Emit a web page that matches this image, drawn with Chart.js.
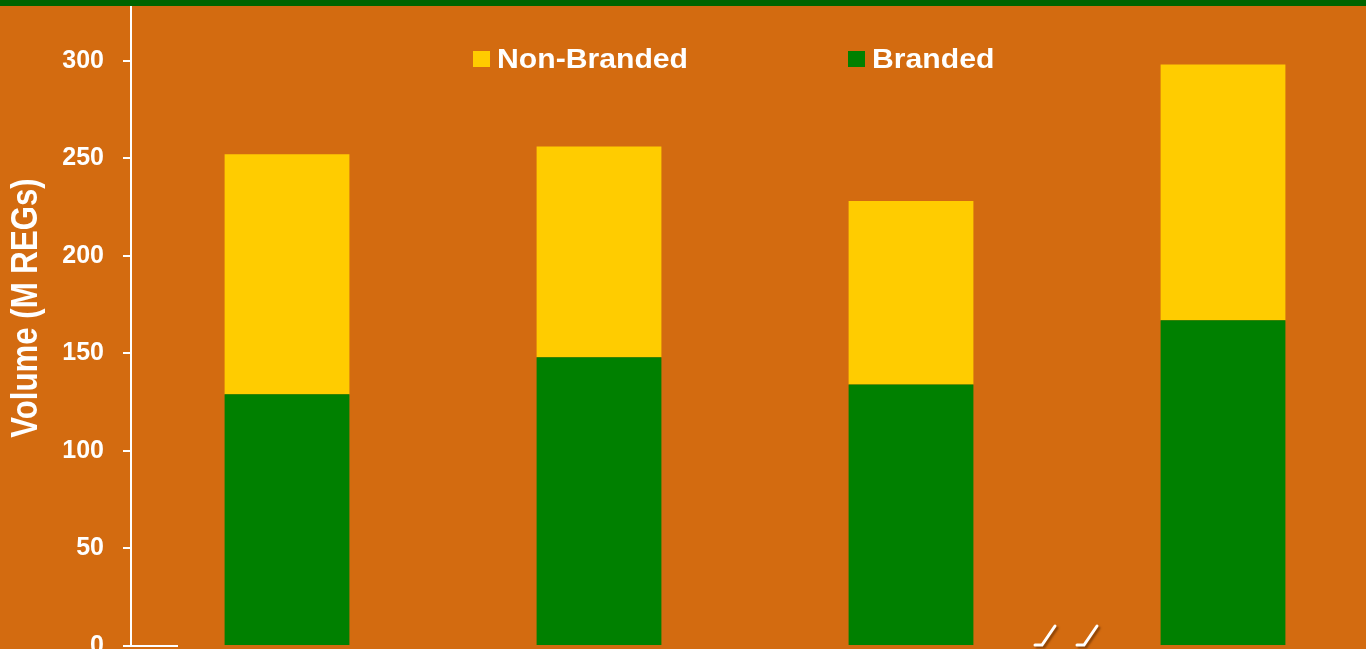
<!DOCTYPE html>
<html>
<head>
<meta charset="utf-8">
<script src="https://cdn.jsdelivr.net/npm/chart.js@4.4.1/dist/chart.umd.min.js"></script>
<style>
  html, body { margin: 0; padding: 0; overflow: hidden; background: #D36B10; }
  .topbar { position: absolute; left: 0; top: 0; width: 1366px; height: 6px; background: #006400; z-index: 2; }
  .wrap { position: absolute; left: 0; top: 0; width: 1380px; height: 700px; }
</style>
</head>
<body>
<div class="topbar"></div>
<div class="wrap"><canvas id="volumeChart" width="1380" height="700"></canvas></div>
<script>
// data
const categories = ['Year 1', 'Year 2', 'Year 3', 'Year 4'];
const branded = [129, 148, 134, 167];
const nonBranded = [123, 108, 94, 131];
const yTicks = [0, 50, 100, 150, 200, 250, 300];

const white = '#FFFFFF';
const fontFamily = "Arial, 'Liberation Sans', sans-serif";

// legend + axis title + break marks, drawn by hand
const extras = {
    id: 'extras',
    afterDraw(chart) {
        const ctx = chart.ctx;
        const area = chart.chartArea;
        const x = chart.scales.x;
        const y = chart.scales.y;

        // axis title, a bit stretched like the original
        ctx.save();
        ctx.translate(27, 308);
        ctx.rotate(-Math.PI / 2);
        ctx.scale(1.04, 1.2);
        ctx.font = 'bold 30px ' + fontFamily;
        ctx.fillStyle = white;
        ctx.textAlign = 'center';
        ctx.textBaseline = 'middle';
        ctx.fillText('Volume (M REGs)', 0, 0);
        ctx.restore();

        // legend (reverse of stack order)
        const items = chart.data.datasets.slice().reverse();
        const legendX = [473, 848];
        items.forEach((ds, i) => {
            const lx = legendX[i];
            ctx.fillStyle = ds.backgroundColor;
            ctx.fillRect(lx, 51, 17, 16);
            ctx.save();
            ctx.translate(lx + 24, 68);
            ctx.scale(1.16, 1.04);
            ctx.font = 'bold 26px ' + fontFamily;
            ctx.fillStyle = white;
            ctx.textAlign = 'left';
            ctx.textBaseline = 'alphabetic';
            ctx.fillText(ds.label, 0, 0);
            ctx.restore();
        });

        // short base line at zero
        const y0 = y.getPixelForValue(0);
        ctx.save();
        ctx.strokeStyle = white;
        ctx.lineWidth = 2;
        ctx.beginPath();
        ctx.moveTo(area.left - 8, y0);
        ctx.lineTo(area.left + 47, y0);
        ctx.stroke();

        // axis break marks between 3rd and 4th bar
        const mid = (x.getPixelForValue(2) + x.getPixelForValue(3)) / 2;
        ctx.lineWidth = 3;
        ctx.lineCap = 'round';
        ctx.shadowColor = 'rgba(90,40,0,0.6)';
        ctx.shadowOffsetX = 2;
        ctx.shadowOffsetY = 2;
        ctx.shadowBlur = 2;
        [mid - 18, mid + 24].forEach(cx => {
            ctx.beginPath();
            ctx.moveTo(cx - 14, y0 - 1);
            ctx.lineTo(cx - 7, y0 - 1);
            ctx.lineTo(cx + 6, y0 - 20);
            ctx.stroke();
        });
        ctx.restore();
    }
};

const ctx = document.getElementById('volumeChart').getContext('2d');
new Chart(ctx, {
    type: 'bar',
    data: {
        labels: categories,
        datasets: [
            {
                label: 'Branded',
                data: branded,
                backgroundColor: '#008000',
                barPercentage: 0.4,
                categoryPercentage: 1.0
            },
            {
                label: 'Non-Branded',
                data: nonBranded,
                backgroundColor: '#FFCC00',
                barPercentage: 0.4,
                categoryPercentage: 1.0
            }
        ]
    },
    options: {
        responsive: false,
        animation: false,
        layout: { padding: { top: 6, bottom: 54, left: 0, right: 1 } },
        plugins: {
            legend: { display: false },
            tooltip: { enabled: false }
        },
        scales: {
            x: {
                stacked: true,
                display: false
            },
            y: {
                stacked: true,
                min: 0,
                max: 328,
                afterBuildTicks: (scale) => {
                    scale.ticks = yTicks.map(v => ({ value: v }));
                },
                afterFit: (scale) => {
                    scale.width = 131;
                    scale.paddingTop = 0;
                    scale.paddingBottom = 0;
                },
                border: { display: true, color: white, width: 2 },
                grid: {
                    drawOnChartArea: false,
                    drawTicks: true,
                    tickLength: 8,
                    color: white,
                    lineWidth: 2
                },
                ticks: {
                    color: white,
                    padding: 19,
                    font: { family: fontFamily, size: 25, weight: 'bold' }
                },
                title: { display: false }
            }
        }
    },
    plugins: [extras]
});
</script>
</body>
</html>
